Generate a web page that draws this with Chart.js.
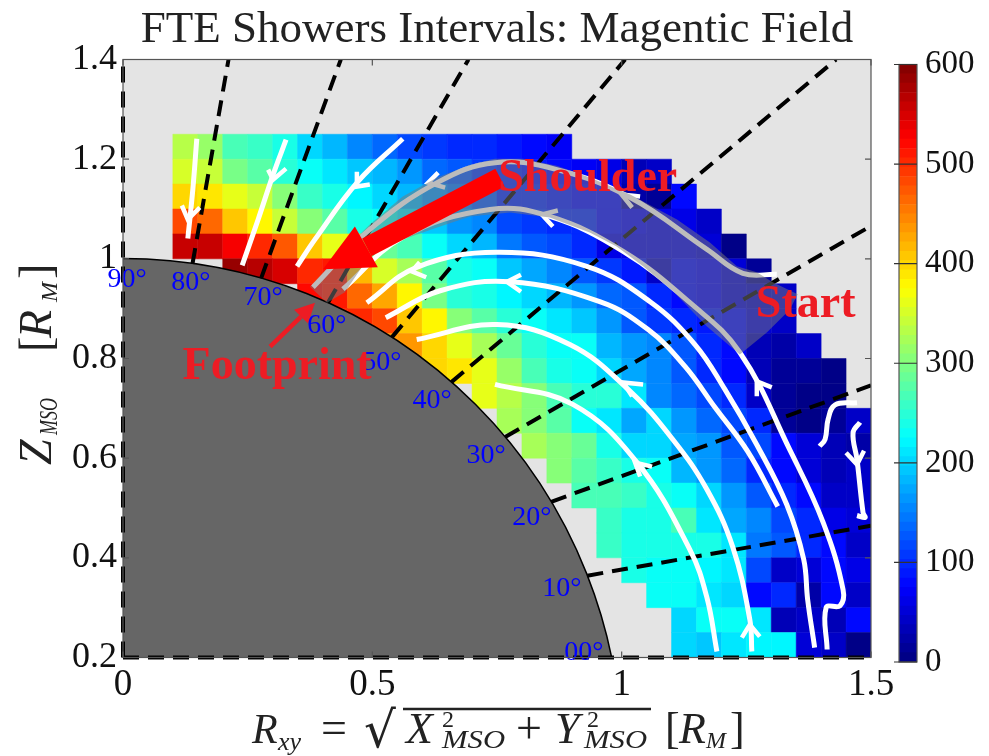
<!DOCTYPE html>
<html><head><meta charset="utf-8">
<style>html,body{margin:0;padding:0;background:#fff;overflow:hidden}
#main,#bar{position:absolute;top:0}
#wm{position:absolute;left:0;top:0;width:989px;height:756px}
#wb{position:absolute;left:880px;top:0;width:109px;height:756px}</style>
<script src="https://cdn.jsdelivr.net/npm/chart.js@4/dist/chart.umd.min.js"></script>
</head><body>
<div id="wm"><canvas id="main"></canvas></div>
<div id="wb"><canvas id="bar"></canvas></div>
<script>
// ---------- data ----------
const titleText = "FTE Showers Intervals: Magentic Field";
const xTicks = [0, 0.5, 1, 1.5];
const zTicks = [0.2, 0.4, 0.6, 0.8, 1, 1.2, 1.4];
const barTicks = [0, 100, 200, 300, 400, 500, 600];
const cellSize = 0.05, firstX = 0.1, topZ = 1.25;
const rowStart = [0,0,0,0,0,2,5,6,8,9,12,13,14,15,16,17,17,18,19,20,20];
const row00 = [330,315,270,260,235,205,180,155,135,115,105,100,95,85,75,70];
const row01 = [355,340,295,280,250,225,215,195,180,160,140,125,110,100,90,75,70,60,35,45];
const row02 = [395,390,365,345,300,260,235,220,205,180,160,145,130,100,95,85,80,75,25,10,75];
const row03 = [485,465,410,375,345,300,280,240,225,210,190,165,150,120,110,100,95,80,70,60,60,40];
const row04 = [555,555,525,500,475,405,365,385,290,265,225,205,180,145,125,115,100,65,60,60,60,55,5];
const row05 = [590,570,550,500,510,420,350,320,280,240,225,195,175,150,130,105,85,45,75,70,50,15];
const row06 = [520,515,465,425,380,295,250,235,220,205,185,165,140,125,95,75,70,55,40,40];
const row07 = [505,505,485,410,380,300,280,245,230,210,195,160,125,110,95,90,75,55,40];
const row08 = [435,435,395,360,325,285,245,232,225,180,165,150,125,100,75,35,25,45];
const row09 = [420,400,385,365,310,265,240,230,200,175,150,130,100,75,35,15,10,0];
const row10 = [365,335,305,268,250,250,215,155,135,120,95,40,15,8,5];
const row11 = [325,300,280,230,210,175,205,160,140,115,95,12,3,15,40];
const row12 = [325,300,285,240,205,200,175,165,125,115,75,50,35,25];
const row13 = [300,275,255,240,225,185,165,135,100,80,55,35,40];
const row14 = [265,265,255,240,225,200,165,125,100,80,40,40];
const row15 = [255,235,240,265,210,175,150,115,95,65,55];
const row16 = [255,240,235,235,240,215,145,130,100,75,40];
const row17 = [240,230,225,220,210,120,40,55,75,60];
const row18 = [232,225,215,205,75,95,25,75,45];
const row19 = [205,225,232,215,35,45,35,75];
const row20 = [205,190,210,220,220,50,40,5];
const heatRows = [row00,row01,row02,row03,row04,row05,row06,row07,row08,row09,row10,row11,row12,row13,row14,row15,row16,row17,row18,row19,row20];

const planetCentre = [{x:0,y:0}];
const angleEnds = [
 [0,0.2,1.5,0.2],[0.9313,0.3642,1.5,0.4645],[0.8587,0.5125,1.5,0.746],[0.7664,0.6425,1.5,1.066],
 [0.6585,0.7526,1.43,1.4],[0.539,0.8424,1.007,1.4],[0.4109,0.9117,0.6928,1.4],[0.2769,0.9609,0.4368,1.4],
 [0.1393,0.99,0.2116,1.4],[0,0.2,0,1.4]];
const streamA = [[.148,1.241],[.140,1.139],[.130,1.041]];
const streamB = [[.327,1.239],[.301,1.169],[.271,1.079],[.239,.987]];
const streamC = [[.561,1.241],[.471,1.155],[.385,1.039],[.349,.985]];
const streamG1 = [[.381,.943],[.495,1.059],[.630,1.153],[.746,1.193],[.870,1.179],[1.017,1.123],[1.171,1.019],[1.243,.971],[1.311,.969]];
const streamG2 = [[.441,.939],[.561,1.043],[.736,1.099],[.856,1.085],[1.003,1.015],[1.137,.912],[1.237,.812],[1.337,.617],[1.404,.471],[1.444,.336],[1.438,.304],[1.410,.300],[1.412,.216]];
const streamS1 = [[.489,.912],[.589,.983],[.750,1.013],[.930,.985],[1.057,.914],[1.147,.828],[1.207,.738],[1.271,.627],[1.331,.507],[1.365,.397],[1.373,.316],[1.387,.220]];
const streamS2 = [[.527,.882],[.636,.936],[.776,.954],[.956,.914],[1.053,.858],[1.127,.784],[1.187,.702],[1.253,.613],[1.313,.503]];
const streamS3 = [[.589,.838],[.750,.868],[.896,.828],[1.013,.738],[1.103,.637],[1.171,.537],[1.223,.421],[1.257,.276],[1.261,.212]];
const streamS4 = [[.746,.748],[.902,.708],[1.031,.591],[1.137,.416],[1.171,.320],[1.191,.212]];
const streamCurl1 = [[1.472,.711],[1.428,.707],[1.414,.678],[1.408,.638],[1.397,.624]];
const streamCurl2 = [[1.478,.672],[1.464,.651],[1.472,.597],[1.484,.491],[1.488,.481],[1.472,.485]];
const streams = [streamA,streamB,streamC,streamG1,streamG2,streamS1,streamS2,streamS3,streamS4,streamCurl1,streamCurl2];
const arrowHeads = [
 [[.118,1.107],[.130,1.079],[.154,1.103]],[[.291,1.179],[.301,1.159],[.327,1.181]],[[.469,1.175],[.469,1.145],[.495,1.149]],
 [[.632,1.173],[.612,1.153],[.646,1.143]],[[1.037,1.125],[1.000,1.129],[1.021,1.103]],[[.872,1.097],[.840,1.089],[.862,1.065]],
 [[1.301,.742],[1.271,.754],[1.271,.724]],[[.595,.993],[.579,.975],[.608,.963]],[[.798,.968],[.770,.954],[.798,.934]],
 [[1.043,.748],[1.003,.752],[1.021,.724]],[[1.061,.583],[1.027,.591],[1.037,.563]],[[1.241,.240],[1.257,.266],[1.277,.242]],
 [[1.450,.611],[1.472,.587],[1.486,.615]]];
const overlayShape = [[.375,.944],[.435,1.009],[.495,1.069],[.561,1.125],[.630,1.163],[.696,1.189],[.746,1.201],[.802,1.201],[.870,1.187],[.936,1.163],[1.017,1.129],[1.111,1.079],[1.177,1.033],[1.231,.985],[1.271,.973],[1.303,.953],[1.353,.929],[1.337,.898],[1.291,.852],[1.237,.808],[1.171,.864],[1.103,.935],[1.043,.985],[.990,1.025],[.936,1.053],[.856,1.083],[.776,1.093],[.696,1.085],[.630,1.063],[.561,1.039],[.495,1.007],[.445,.933],[.409,.912]];
const bigArrowShaft = [[.756,1.163],[.489,1.023]];
const bigArrowHead = [[.465,1.065],[.511,.983],[.401,.979]];
const smallArrowShaft = [[.295,.824],[.357,.884]];
const smallArrowHead = [[.343,.898],[.371,.870],[.385,.912]];
const angleLabels = [["90°",.008,.959],["80°",.136,.953],["70°",.281,.923],["60°",.409,.866],["50°",.519,.792],["40°",.620,.716],["30°",.728,.605],["20°",.820,.481],["10°",.880,.338],["00°",.924,.210]];
const noteLabels = [["Shoulder",.932,1.159],["Start",1.369,.908],["Footprint",.309,.782]];

// ---------- helpers ----------
const SERIF = '"Liberation Serif"';
function jet(v){
  const i = Math.min(63, Math.floor(v/600*64));
  const t = (i+0.5)/64;
  const c = a => Math.round(255*Math.max(0,Math.min(1,1.5-Math.abs(4*t-a))));
  return `rgb(${c(3)},${c(2)},${c(1)})`;
}
const pts = a => a.map(p => ({x:p[0],y:p[1]}));
const cells = [];
heatRows.forEach((row,r)=>row.forEach((v,i)=>cells.push({
  x:firstX+(rowStart[r]+i+0.5)*cellSize, y:topZ-(r+0.5)*cellSize, v})));
const lineDs = (data,extra)=>Object.assign({type:'line',data:pts(data),pointRadius:0,pointHoverRadius:0,fill:false,tension:0,clip:0},extra);
const unitPx = c => { const s=c.chart.scales.x; return s.getPixelForValue(1)-s.getPixelForValue(0); };

const datasets = [];
datasets.push({label:'cells',data:cells,order:100,clip:0,showLine:false,pointStyle:'rect',
  pointRadius:c=>unitPx(c)*cellSize/Math.SQRT2,pointHoverRadius:c=>unitPx(c)*cellSize/Math.SQRT2,
  pointBackgroundColor:cells.map(d=>jet(d.v)),pointBorderColor:cells.map(d=>jet(d.v)),pointBorderWidth:0.5});
datasets.push({label:'planet',data:planetCentre,order:90,clip:0,showLine:false,pointStyle:'circle',
  pointRadius:unitPx,pointHoverRadius:unitPx,pointBackgroundColor:'#666666',pointBorderColor:'#000',pointBorderWidth:1.5});
angleEnds.forEach((e,i)=>datasets.push(lineDs([[e[0],e[1]],[e[2],e[3]]],
  {label:'angle'+i*10,order:80,borderColor:'#000',borderWidth:4,borderDash:[16,9],clip:(i===0||i===9)?3:0})));
streams.forEach((s,i)=>datasets.push(lineDs(s,{label:'stream'+i,order:70,borderColor:'#fff',borderWidth:5,tension:0.4,borderCapStyle:'butt',borderJoinStyle:'round'})));
arrowHeads.forEach((s,i)=>datasets.push(lineDs(s,{label:'head'+i,order:70,borderColor:'#fff',borderWidth:4.5})));
datasets.push(lineDs(overlayShape,{label:'overlay',order:60,borderWidth:0,borderColor:'rgba(0,0,0,0)',backgroundColor:'rgba(122,122,122,0.5)',fill:'shape'}));
datasets.push(lineDs(bigArrowShaft,{label:'bigShaft',order:50,borderColor:'#ff0000',borderWidth:20}));
datasets.push(lineDs(bigArrowHead,{label:'bigHead',order:50,borderWidth:0,borderColor:'rgba(0,0,0,0)',backgroundColor:'#ff0000',fill:'shape'}));
datasets.push(lineDs(smallArrowShaft,{label:'smallShaft',order:50,borderColor:'#ed1c24',borderWidth:4.5}));
datasets.push(lineDs(smallArrowHead,{label:'smallHead',order:50,borderWidth:0,borderColor:'rgba(0,0,0,0)',backgroundColor:'#ed1c24',fill:'shape'}));

function runs(ctx,list,x0,y0){
  ctx.textAlign='left';ctx.textBaseline='alphabetic';
  list.forEach(r=>{
    ctx.save();ctx.translate(x0+r.x,y0+(r.y||0));ctx.scale(r.sx||1,1);
    ctx.font=r.f;ctx.fillText(r.t,0,0);ctx.restore();
  });
}
const I=s=>`italic ${s}px ${SERIF}`, P=s=>`${s}px ${SERIF}`;
const frame = {
  id:'frame',
  beforeDraw(chart){
    const {ctx,chartArea:a}=chart;
    ctx.save();ctx.fillStyle='#e4e4e4';ctx.fillRect(a.left,a.top,a.right-a.left,a.bottom-a.top);ctx.restore();
  },
  afterDatasetsDraw(chart){
    const {ctx,chartArea:a,scales}=chart;
    ctx.save();
    ctx.textAlign='center';ctx.textBaseline='middle';
    ctx.font=P(28);ctx.fillStyle='#0000ff';
    angleLabels.forEach(l=>ctx.fillText(l[0],scales.x.getPixelForValue(l[1]),scales.y.getPixelForValue(l[2])));
    ctx.font=`bold 46px ${SERIF}`;ctx.fillStyle='#ed1c24';
    noteLabels.forEach(l=>ctx.fillText(l[0],scales.x.getPixelForValue(l[1]),scales.y.getPixelForValue(l[2])));
    ctx.strokeStyle='#555';ctx.lineWidth=1.2;
    ctx.strokeRect(a.left,a.top,a.right-a.left,a.bottom-a.top);
    ctx.beginPath();
    xTicks.forEach(v=>{const p=scales.x.getPixelForValue(v);ctx.moveTo(p,a.top);ctx.lineTo(p,a.top+6);ctx.moveTo(p,a.bottom);ctx.lineTo(p,a.bottom-6);});
    zTicks.forEach(v=>{const p=scales.y.getPixelForValue(v);ctx.moveTo(a.left,p);ctx.lineTo(a.left+6,p);ctx.moveTo(a.right,p);ctx.lineTo(a.right-6,p);});
    ctx.stroke();
    ctx.restore();
  },
  afterDraw(chart){
    const {ctx}=chart;
    ctx.save();ctx.fillStyle='#222';ctx.strokeStyle='#222';
    // horizontal axis title
    runs(ctx,[
      {t:'R',f:I(42),x:0},{t:'xy',f:I(26),x:26,y:7},{t:'=',f:P(46),x:69},
      {t:'√',f:'50px "DejaVu Serif"',x:112,y:4},
      {t:'X',f:I(44),x:154},{t:'2',f:P(24),x:190,y:-16},{t:'MSO',f:I(26),x:190,y:5,sx:1.18},
      {t:'+',f:P(46),x:264},
      {t:'Y',f:I(44),x:303},{t:'2',f:P(24),x:335,y:-16},{t:'MSO',f:I(26),x:332,y:5,sx:1.18},
      {t:'[',f:P(44),x:413},{t:'R',f:I(44),x:427},{t:'M',f:I(24),x:454,y:5},{t:']',f:P(44),x:478}
    ],252,743);
    ctx.lineWidth=2.5;ctx.beginPath();ctx.moveTo(403,709);ctx.lineTo(651,709);ctx.stroke();
    // vertical axis title
    ctx.save();ctx.translate(51,465);ctx.rotate(-Math.PI/2);
    runs(ctx,[
      {t:'Z',f:I(46),x:0},{t:'MSO',f:I(25),x:30,y:6,sx:0.72},
      {t:'[',f:P(46),x:113},{t:'R',f:I(46),x:127},{t:'M',f:I(24),x:163,y:6},{t:']',f:P(46),x:186}
    ],0,0);
    ctx.restore();
    ctx.restore();
  }
};

Chart.defaults.animation=false;
new Chart(document.getElementById('main'),{
  type:'scatter',
  data:{datasets},
  plugins:[frame],
  options:{
    responsive:true,maintainAspectRatio:false,animation:false,
    events:[],
    layout:{padding:{top:0,right:118,left:0,bottom:0}},
    plugins:{legend:{display:false},tooltip:{enabled:false},
      title:{display:true,text:titleText,fullSize:false,color:'#222',font:{family:SERIF,size:45,weight:'normal',lineHeight:1.2},padding:{top:3,bottom:2.5}}},
    scales:{
      x:{type:'linear',min:0,max:1.5,afterFit:s=>{s.height=98.5;},afterBuildTicks:s=>{s.ticks=xTicks.map(v=>({value:v}));},
        grid:{display:false,drawTicks:false},border:{display:false},
        ticks:{color:'#111',font:{family:SERIF,size:37},padding:6,maxRotation:0,autoSkip:false,callback:v=>String(v)}},
      y:{type:'linear',min:0.2,max:1.4,afterFit:s=>{s.width=123;},afterBuildTicks:s=>{s.ticks=zTicks.map(v=>({value:v}));},
        grid:{display:false,drawTicks:false},border:{display:false},
        ticks:{color:'#111',font:{family:SERIF,size:36},padding:6,autoSkip:false,callback:v=>String(v)}}
    }
  }
});

// ---------- colour bar ----------
const levels = Array.from({length:64},(_,i)=>i);
const barSets = levels.map(i=>({data:[[i*600/64,(i+1)*600/64]],backgroundColor:jet((i+0.5)*600/64),borderWidth:0,barPercentage:1,categoryPercentage:1}));
const barFrame={id:'barFrame',afterDatasetsDraw(chart){
  const {ctx,chartArea:a,scales}=chart;
  ctx.save();ctx.strokeStyle='#555';ctx.lineWidth=1.2;
  ctx.strokeRect(a.left,a.top,a.right-a.left,a.bottom-a.top);
  ctx.beginPath();
  barTicks.forEach(v=>{const p=scales.y.getPixelForValue(v);ctx.moveTo(a.left-5,p);ctx.lineTo(a.right,p);});
  ctx.strokeStyle='#333';ctx.stroke();ctx.restore();
}};
new Chart(document.getElementById('bar'),{
  type:'bar',
  data:{labels:['B'],datasets:barSets},
  plugins:[barFrame],
  options:{
    responsive:true,maintainAspectRatio:false,animation:false,events:[],
    layout:{padding:{top:64.5,left:19,bottom:94,right:0}},
    plugins:{legend:{display:false},tooltip:{enabled:false}},
    scales:{
      x:{display:false,stacked:true},
      y:{position:'right',stacked:false,min:0,max:600,afterFit:s=>{s.width=72;},afterBuildTicks:s=>{s.ticks=barTicks.map(v=>({value:v}));},
        grid:{display:false,drawTicks:false},border:{display:false},
        ticks:{color:'#111',font:{family:SERIF,size:33},padding:8,autoSkip:false,callback:v=>String(v)}}
    }
  }
});
</script>
</body></html>
